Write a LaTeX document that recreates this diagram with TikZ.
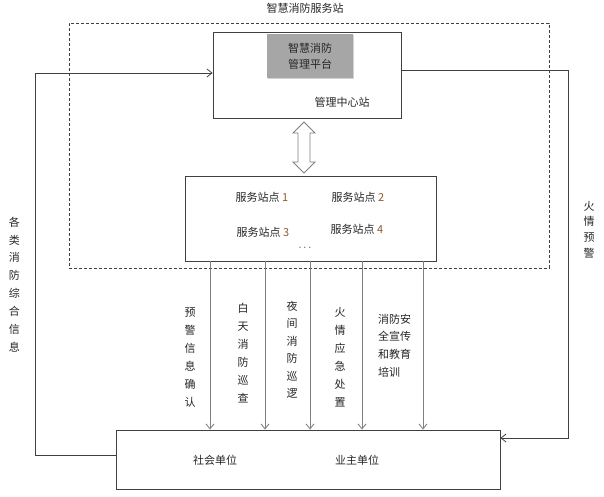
\documentclass[tikz,border=0pt]{standalone}
\usepackage{fontspec}
\setmainfont{Noto Sans CJK SC}
\usetikzlibrary{arrows.meta,shadows,calc}
\definecolor{linec}{RGB}{64,64,64}
\definecolor{arrc}{RGB}{128,128,128}
\definecolor{txtc}{RGB}{38,38,38}
\definecolor{numc}{RGB}{140,90,40}
\definecolor{platc}{RGB}{166,166,166}
\begin{document}
\begin{tikzpicture}[x=1pt,y=-1pt,
  box/.style={draw=linec,line width=0.8pt,minimum width=#1},
  lbl/.style={text=txtc,font=\fontsize{11}{13}\selectfont,inner sep=0pt},
  vlbl/.style={text=txtc,font=\fontsize{11}{#1}\selectfont,inner sep=0pt,align=center},
  arr/.style={draw=arrc,line width=0.9pt,-{Straight Barb[length=5pt,width=8pt]}},
  loop/.style={draw=linec,line width=0.8pt,-{Straight Barb[length=5pt,width=8pt]}},
]
\useasboundingbox (0,0) rectangle (604,496);
% dashed frame
\node[draw=linec,dash pattern=on 3pt off 2pt,line width=0.6pt,minimum width=480pt,minimum height=245pt,inner sep=0pt] (frame) at (309,145.5) {};
\node[lbl] (title) at (305,8) {智慧消防服务站};
% management centre
\node[draw=linec,line width=0.8pt,minimum width=188pt,minimum height=86pt,inner sep=0pt] (mgmt) at (307,75) {};
\node[fill=platc,minimum width=86pt,minimum height=44pt,inner sep=0pt,align=center,text=txtc,
  font=\fontsize{11}{16}\selectfont,
  drop shadow={shadow xshift=1.2pt,shadow yshift=-1.2pt,opacity=0.35}] (plat) at (310,56) {智慧消防\\管理平台};
\node[lbl] (mgmtlbl) at (342,102) {管理中心站};
% service stations
\node[draw=linec,line width=0.8pt,minimum width=251pt,minimum height=85pt,inner sep=0pt] (station) at (310.5,218.5) {};
\node[lbl] (s1) at (262,197) {服务站点 \textcolor{numc}{1}};
\node[lbl] (s2) at (358,197) {服务站点 \textcolor{numc}{2}};
\node[lbl] (s3) at (263,232) {服务站点 \textcolor{numc}{3}};
\node[lbl] (s4) at (357,229) {服务站点 \textcolor{numc}{4}};
\node[lbl] (dots) at (305,248) {$\cdots$};
% hollow double arrow
\draw[draw=arrc,line width=0.8pt,fill=white,line join=miter]
  (304,122) -- (315,133) -- (310,133) -- (310,162) -- (315,162) -- (304,173)
  -- (293,162) -- (298,162) -- (298,133) -- (293,133) -- cycle;
% bottom box
\node[draw=linec,line width=0.8pt,minimum width=384pt,minimum height=59pt,inner sep=0pt] (bottom) at (308,459.5) {};
\node[lbl] (u1) at (215,460) {社会单位};
\node[lbl] (u2) at (357,460) {业主单位};
% vertical arrows
\foreach \x/\n in {210/a1,265/a2,310/a3,362/a4,423/a5}{
  \coordinate (\n) at (\x,0);
  \draw[arr] (\n |- station.south) -- (\n |- bottom.north);
}
\node[vlbl=18] (l1) at (190,358) {预\\警\\信\\息\\确\\认};
\node[vlbl=18] (l2) at (243,353) {白\\天\\消\\防\\巡\\查};
\node[vlbl=17.5] (l3) at (292,350) {夜\\间\\消\\防\\巡\\逻};
\node[vlbl=18] (l4) at (340,357) {火\\情\\应\\急\\处\\置};
\node[text=txtc,font=\fontsize{11}{17.7}\selectfont,inner sep=0pt,align=left,anchor=west] (l5) at (378,345.5) {消防安\\全宣传\\和教育\\培训};
% feedback loops
\coordinate (lx) at (35,0);
\coordinate (rx) at (568,0);
\draw[loop] ($(bottom.west)+(0,-4.5)$) -- ($(lx)+(0,455)$) -- ($(lx)+(0,73)$) -- ($(mgmt.west)+(0,-2)$);
\draw[loop] ($(mgmt.east)+(0,-5)$) -- ($(rx)+(0,70)$) -- ($(rx)+(0,438)$) -- ($(bottom.east)+(0,-21.5)$);
\node[vlbl=17.9] (ll) at (14.5,284.5) {各\\类\\消\\防\\综\\合\\信\\息};
\node[vlbl=15.7] (rl) at (589,229.5) {火\\情\\预\\警};
\end{tikzpicture}
\end{document}
